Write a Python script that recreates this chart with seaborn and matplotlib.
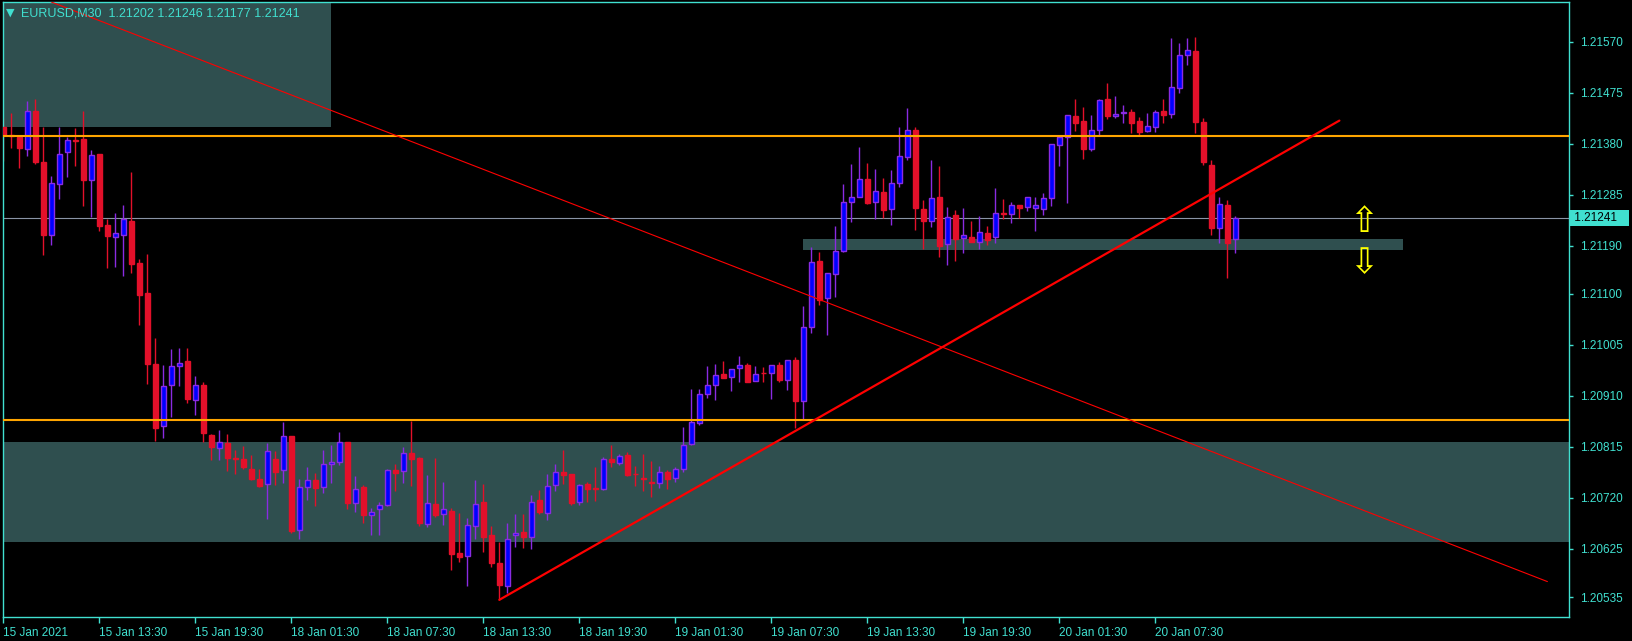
import numpy as np
import pandas as pd
import seaborn as sns
import matplotlib.pyplot as plt

# EURUSD M30 bars, 15 Jan 07:30 -> 20 Jan 12:30
opens = [
    1.21412, 1.21396, 1.21393, 1.21371, 1.21441, 1.21345, 1.21210, 1.21305, 1.21364, 1.21386,
    1.21388, 1.21313, 1.21360, 1.21228, 1.21206, 1.21210, 1.21236, 1.21157, 1.21101, 1.20969,
    1.20854, 1.20930, 1.20965, 1.20975, 1.20903, 1.20930, 1.20838, 1.20812, 1.20822, 1.20795,
    1.20792, 1.20773, 1.20755, 1.20745, 1.20792, 1.20771, 1.20835, 1.20661, 1.20741, 1.20753,
    1.20740, 1.20784, 1.20786, 1.20825, 1.20710, 1.20740, 1.20689, 1.20699, 1.20706, 1.20772,
    1.20770, 1.20803, 1.20794, 1.20671, 1.20709, 1.20690, 1.20696, 1.20617, 1.20611, 1.20667,
    1.20712, 1.20650, 1.20598, 1.20555, 1.20650, 1.20657, 1.20647, 1.20716, 1.20692, 1.20744,
    1.20769, 1.20765, 1.20712, 1.20745, 1.20738, 1.20737, 1.20792, 1.20785, 1.20799, 1.20765,
    1.20757, 1.20750, 1.20747, 1.20768, 1.20757, 1.20773, 1.20820, 1.20859, 1.20913, 1.20930,
    1.20950, 1.20945, 1.20962, 1.20967, 1.20937, 1.20953, 1.20952, 1.20968, 1.20940, 1.20977,
    1.20900, 1.21038, 1.21162, 1.21092, 1.21137, 1.21180, 1.21271, 1.21280, 1.21314, 1.21271,
    1.21290, 1.21258, 1.21306, 1.21355, 1.21405, 1.21258, 1.21235, 1.21280, 1.21193, 1.21247,
    1.21204, 1.21207, 1.21196, 1.21213, 1.21206, 1.21250, 1.21249, 1.21265, 1.21262, 1.21260,
    1.21258, 1.21278, 1.21377, 1.21392, 1.21432, 1.21422, 1.21370, 1.21405, 1.21463, 1.21431,
    1.21437, 1.21439, 1.21422, 1.21403, 1.21412, 1.21441, 1.21435, 1.21483, 1.21545, 1.21552,
    1.21421, 1.21340, 1.21222, 1.21266, 1.21202,
]
highs = [
    1.21427, 1.21437, 1.21396, 1.21459, 1.21464, 1.21411, 1.21319, 1.21411, 1.21393, 1.21409,
    1.21441, 1.21368, 1.21360, 1.21239, 1.21250, 1.21265, 1.21327, 1.21165, 1.21174, 1.21018,
    1.20967, 1.20997, 1.20999, 1.20999, 1.20947, 1.20935, 1.20839, 1.20846, 1.20839, 1.20810,
    1.20817, 1.20799, 1.20774, 1.20822, 1.20807, 1.20861, 1.20835, 1.20756, 1.20777, 1.20766,
    1.20809, 1.20819, 1.20843, 1.20825, 1.20761, 1.20744, 1.20701, 1.20713, 1.20774, 1.20784,
    1.20815, 1.20864, 1.20797, 1.20763, 1.20794, 1.20750, 1.20701, 1.20691, 1.20682, 1.20753,
    1.20745, 1.20667, 1.20637, 1.20673, 1.20690, 1.20690, 1.20726, 1.20735, 1.20765, 1.20783,
    1.20809, 1.20765, 1.20746, 1.20750, 1.20777, 1.20797, 1.20818, 1.20802, 1.20805, 1.20780,
    1.20802, 1.20788, 1.20780, 1.20772, 1.20777, 1.20852, 1.20922, 1.20922, 1.20966, 1.20970,
    1.20975, 1.20960, 1.20984, 1.20971, 1.20966, 1.20963, 1.20968, 1.20974, 1.20977, 1.20983,
    1.21077, 1.21188, 1.21179, 1.21139, 1.21227, 1.21305, 1.21342, 1.21374, 1.21344, 1.21333,
    1.21316, 1.21331, 1.21411, 1.21447, 1.21411, 1.21275, 1.21350, 1.21339, 1.21262, 1.21257,
    1.21260, 1.21236, 1.21245, 1.21226, 1.21297, 1.21277, 1.21272, 1.21265, 1.21280, 1.21280,
    1.21288, 1.21379, 1.21393, 1.21433, 1.21463, 1.21448, 1.21433, 1.21463, 1.21493, 1.21469,
    1.21452, 1.21444, 1.21429, 1.21437, 1.21443, 1.21463, 1.21577, 1.21567, 1.21577, 1.21578,
    1.21428, 1.21350, 1.21280, 1.21275, 1.21246,
]
lows = [
    1.21347, 1.21372, 1.21334, 1.21357, 1.21342, 1.21173, 1.21192, 1.21277, 1.21318, 1.21339,
    1.21264, 1.21244, 1.21218, 1.21149, 1.21151, 1.21134, 1.21139, 1.21043, 1.20933, 1.20826,
    1.20832, 1.20871, 1.20929, 1.20896, 1.20874, 1.20825, 1.20790, 1.20790, 1.20770, 1.20765,
    1.20773, 1.20753, 1.20740, 1.20680, 1.20744, 1.20747, 1.20655, 1.20643, 1.20716, 1.20704,
    1.20729, 1.20747, 1.20781, 1.20699, 1.20694, 1.20673, 1.20651, 1.20651, 1.20704, 1.20732,
    1.20747, 1.20742, 1.20668, 1.20666, 1.20685, 1.20670, 1.20586, 1.20601, 1.20556, 1.20643,
    1.20619, 1.20591, 1.20530, 1.20542, 1.20628, 1.20626, 1.20624, 1.20690, 1.20679, 1.20732,
    1.20745, 1.20707, 1.20707, 1.20713, 1.20715, 1.20735, 1.20777, 1.20782, 1.20761, 1.20743,
    1.20733, 1.20721, 1.20738, 1.20736, 1.20749, 1.20769, 1.20819, 1.20855, 1.20907, 1.20903,
    1.20943, 1.20920, 1.20936, 1.20935, 1.20937, 1.20935, 1.20905, 1.20936, 1.20921, 1.20850,
    1.20867, 1.21027, 1.21080, 1.21023, 1.21095, 1.21178, 1.21234, 1.21280, 1.21268, 1.21240,
    1.21242, 1.21229, 1.21300, 1.21350, 1.21220, 1.21184, 1.21224, 1.21168, 1.21153, 1.21162,
    1.21177, 1.21196, 1.21184, 1.21192, 1.21195, 1.21239, 1.21232, 1.21242, 1.21254, 1.21218,
    1.21247, 1.21263, 1.21339, 1.21269, 1.21403, 1.21351, 1.21367, 1.21396, 1.21426, 1.21427,
    1.21419, 1.21399, 1.21396, 1.21401, 1.21401, 1.21419, 1.21427, 1.21475, 1.21527, 1.21399,
    1.21340, 1.21210, 1.21195, 1.21130, 1.21177,
]
closes = [
    1.21396, 1.21395, 1.21372, 1.21441, 1.21346, 1.21210, 1.21306, 1.21360, 1.21386, 1.21385,
    1.21313, 1.21358, 1.21227, 1.21208, 1.21213, 1.21239, 1.21156, 1.21098, 1.20970, 1.20851,
    1.20928, 1.20965, 1.20972, 1.20905, 1.20931, 1.20840, 1.20815, 1.20825, 1.20795, 1.20792,
    1.20778, 1.20755, 1.20743, 1.20807, 1.20769, 1.20835, 1.20658, 1.20741, 1.20753, 1.20739,
    1.20783, 1.20787, 1.20825, 1.20710, 1.20736, 1.20688, 1.20694, 1.20706, 1.20771, 1.20767,
    1.20803, 1.20792, 1.20673, 1.20710, 1.20688, 1.20699, 1.20616, 1.20609, 1.20669, 1.20709,
    1.20648, 1.20598, 1.20557, 1.20644, 1.20654, 1.20648, 1.20713, 1.20693, 1.20743, 1.20769,
    1.20762, 1.20711, 1.20744, 1.20737, 1.20737, 1.20792, 1.20786, 1.20798, 1.20762, 1.20764,
    1.20756, 1.20748, 1.20769, 1.20755, 1.20773, 1.20818, 1.20861, 1.20913, 1.20930, 1.20949,
    1.20943, 1.20960, 1.20967, 1.20936, 1.20951, 1.20952, 1.20967, 1.20940, 1.20977, 1.20901,
    1.21038, 1.21159, 1.21089, 1.21139, 1.21180, 1.21271, 1.21280, 1.21314, 1.21270, 1.21291,
    1.21256, 1.21306, 1.21357, 1.21405, 1.21260, 1.21235, 1.21278, 1.21190, 1.21244, 1.21202,
    1.21210, 1.21196, 1.21216, 1.21200, 1.21250, 1.21249, 1.21265, 1.21260, 1.21280, 1.21266,
    1.21278, 1.21379, 1.21393, 1.21433, 1.21419, 1.21370, 1.21406, 1.21461, 1.21431, 1.21435,
    1.21439, 1.21419, 1.21401, 1.21413, 1.21439, 1.21434, 1.21486, 1.21545, 1.21554, 1.21421,
    1.21345, 1.21222, 1.21268, 1.21195, 1.21241,
]

time_labels = ['15 Jan 2021', '15 Jan 13:30', '15 Jan 19:30', '18 Jan 01:30', '18 Jan 07:30',
               '18 Jan 13:30', '18 Jan 19:30', '19 Jan 01:30', '19 Jan 07:30', '19 Jan 13:30',
               '19 Jan 19:30', '20 Jan 01:30', '20 Jan 07:30']
label_bars = [0, 12, 24, 36, 48, 60, 72, 84, 96, 108, 120, 132, 144]
price_ticks = [1.21570, 1.21475, 1.21380, 1.21285, 1.21190, 1.21100,
               1.21005, 1.20910, 1.20815, 1.20720, 1.20625, 1.20535]

# drawn objects: zones (bar from/to, price low/high), levels, trend lines
zone_bars = [(-5, 41), (-5, 200), (100, 175)]
zone_prices = [(1.21412, 1.21700), (1.20637, 1.20824), (1.21182, 1.21203)]
levels = [1.21395, 1.20866]
thin_trend_bars, thin_trend_prices = [6, 193], [1.21644, 1.20564]
thick_trend_bars, thick_trend_prices = [62, 167], [1.20530, 1.21423]
last_price = 1.21241
arrow_bar = 170
arrow_up_price, arrow_down_price = 1.21234, 1.21158

TURQ = '#40e0d0'
ZONE = '#2f4f4f'
BULL, BULL_EDGE = '#0000ff', '#8a2be2'
BEAR = '#e3102a'

df = pd.DataFrame({'open': opens, 'high': highs, 'low': lows, 'close': closes})
df['bar'] = np.arange(len(df))
df['bull'] = df['close'] >= df['open']

sns.set_theme(style='dark', rc={'axes.facecolor': 'black', 'figure.facecolor': 'black'})
plt.rcParams['font.family'] = ['Liberation Sans', 'DejaVu Sans']

fig = plt.figure(figsize=(16.33, 6.41), dpi=100)
ax = fig.add_axes([3 / 1633, 24 / 641, 1566 / 1633, 615 / 641])
ax.set_facecolor('black')

for (b0, b1), (p0, p1) in zip(zone_bars, zone_prices):
    ax.fill_between([b0, b1], p0, p1, color=ZONE, linewidth=0, zorder=0)

ax.axhline(last_price, color='#8a94a6', linewidth=0.8, zorder=1)

for bull, grp in df.groupby('bull'):
    wick = BULL_EDGE if bull else BEAR
    body = BULL if bull else BEAR
    ax.vlines(grp['bar'], grp['low'], grp['high'], colors=wick, linewidth=1, zorder=2)
    height = (grp['close'] - grp['open']).abs().clip(lower=0.000004)
    bottom = grp[['open', 'close']].min(axis=1)
    ax.bar(grp['bar'], height, bottom=bottom, width=0.6, color=body,
           edgecolor=wick, linewidth=1, zorder=3)

for lvl in levels:
    ax.axhline(lvl, color='#ffa500', linewidth=1.5, zorder=4)

sns.lineplot(x=thin_trend_bars, y=thin_trend_prices, color='#ff0000', linewidth=0.8, ax=ax, zorder=5)
sns.lineplot(x=thick_trend_bars, y=thick_trend_prices, color='#ff0000', linewidth=1.6, ax=ax, zorder=5)

ax.text(arrow_bar, arrow_up_price, '\u21e7', color='yellow', fontsize=25, ha='center', va='center',
        family=['DejaVu Sans'], zorder=6)
ax.text(arrow_bar, arrow_down_price, '\u21e9', color='yellow', fontsize=25, ha='center', va='center',
        family=['DejaVu Sans'], zorder=6)

ax.set_xlim(-0.04, 195.7)
ax.set_ylim(1.20498, 1.21644)
ax.grid(False)

ax.yaxis.tick_right()
ax.set_yticks(price_ticks)
ax.set_yticklabels([f'{p:.5f}' for p in price_ticks])
ax.tick_params(axis='y', direction='out', length=3, width=1, color=TURQ, labelcolor=TURQ,
               labelsize=8.5, pad=5, right=True, left=False)
ax.set_xticks(label_bars)
ax.set_xticklabels(time_labels, ha='left')
ax.tick_params(axis='x', direction='out', length=4, width=1, color=TURQ, labelcolor=TURQ,
               labelsize=8.5, pad=3, bottom=True)
for sp in ax.spines.values():
    sp.set_visible(True)
    sp.set_color(TURQ)
    sp.set_linewidth(1)
ax.set_xlabel('')
ax.set_ylabel('')

ax.text(1.0015, last_price, ' 1.21241   ', transform=ax.get_yaxis_transform(), color='black',
        fontsize=8.5, ha='left', va='center',
        bbox=dict(boxstyle='square,pad=0.15', facecolor=TURQ, edgecolor='none'))

fig.text(10.5 / 1633, 1 - 12.5 / 641, '\u25bc', color=TURQ, fontsize=8, ha='center', va='center',
         family=['DejaVu Sans'])
fig.text(21 / 1633, 1 - 13 / 641, 'EURUSD,M30  1.21202 1.21246 1.21177 1.21241', color=TURQ,
         fontsize=9, ha='left', va='center')

fig.savefig('out.png', dpi=100, facecolor='black')
